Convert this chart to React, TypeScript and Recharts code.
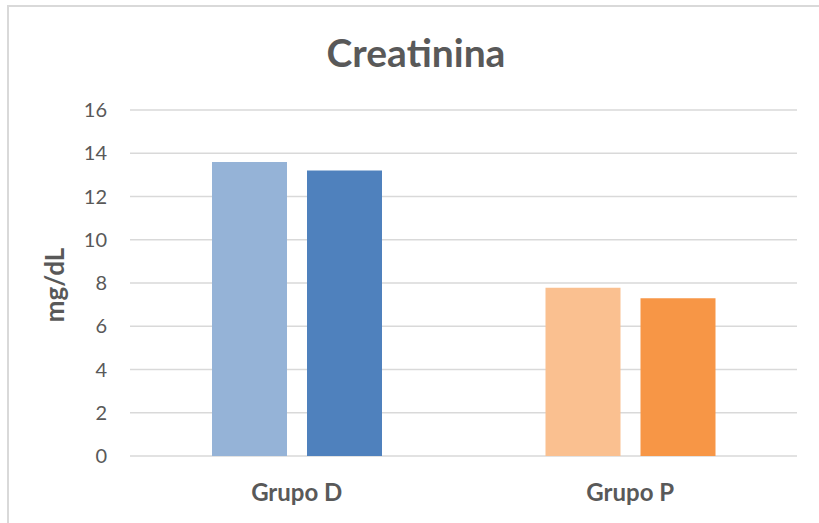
import React from 'react';
import { BarChart, Bar, XAxis, YAxis, CartesianGrid, Cell } from 'recharts';

const categories = ['Grupo D', 'Grupo P'];
const firstValues = [13.6, 7.78];
const secondValues = [13.2, 7.3];
const firstColors = ['#95B3D7', '#FAC090'];
const secondColors = ['#4F81BD', '#F79646'];
const yTicks = [0, 2, 4, 6, 8, 10, 12, 14, 16];

const data = categories.map((name, i) => ({ name, a: firstValues[i], b: secondValues[i] }));

const FONT = 'Lato, "Open Sans", sans-serif';
const TEXT = '#595959';

export default function App() {
  return (
    <div style={{ position: 'absolute', left: 0, top: 0, width: 819, height: 523, overflow: 'hidden', background: '#fff', fontFamily: FONT }}>
      <div style={{ position: 'absolute', left: 7, top: 5, width: 900, height: 700, borderLeft: '2px solid #d9d9d9', borderTop: '2px solid #d9d9d9', boxSizing: 'border-box' }} />
      <div style={{ position: 'absolute', left: 0, top: 0 }}>
        <BarChart width={819} height={523} data={data} margin={{ top: 110, right: 22, bottom: 37, left: 0 }} barSize={75} barGap={20}>
          <CartesianGrid vertical={false} stroke="#d9d9d9" strokeWidth={1.5} />
          <XAxis dataKey="name" axisLine={false} tickLine={false} tickMargin={22}
            tick={{ fill: TEXT, fontSize: 24, fontWeight: 700, fontFamily: FONT }} />
          <YAxis width={130} domain={[0, 16]} ticks={yTicks} axisLine={false} tickLine={false} tickMargin={17}
            tick={{ fill: TEXT, fontSize: 20, fontFamily: FONT }} />
          <Bar dataKey="a" isAnimationActive={false}>
            {data.map((d, i) => <Cell key={i} fill={firstColors[i]} />)}
          </Bar>
          <Bar dataKey="b" isAnimationActive={false}>
            {data.map((d, i) => <Cell key={i} fill={secondColors[i]} />)}
          </Bar>
        </BarChart>
      </div>
      <div style={{ position: 'absolute', left: 0, width: 832, top: 26, textAlign: 'center', fontSize: 39, fontWeight: 700, color: TEXT, lineHeight: '52px' }}>Creatinina</div>
      <div style={{ position: 'absolute', left: 54, top: 285, width: 0, height: 0 }}>
        <div style={{ position: 'absolute', left: 0, top: 0, transform: 'translate(-50%, -50%) rotate(-90deg)', fontSize: 26, fontWeight: 700, color: TEXT, whiteSpace: 'nowrap', lineHeight: '30px' }}>mg/dL</div>
      </div>
    </div>
  );
}
